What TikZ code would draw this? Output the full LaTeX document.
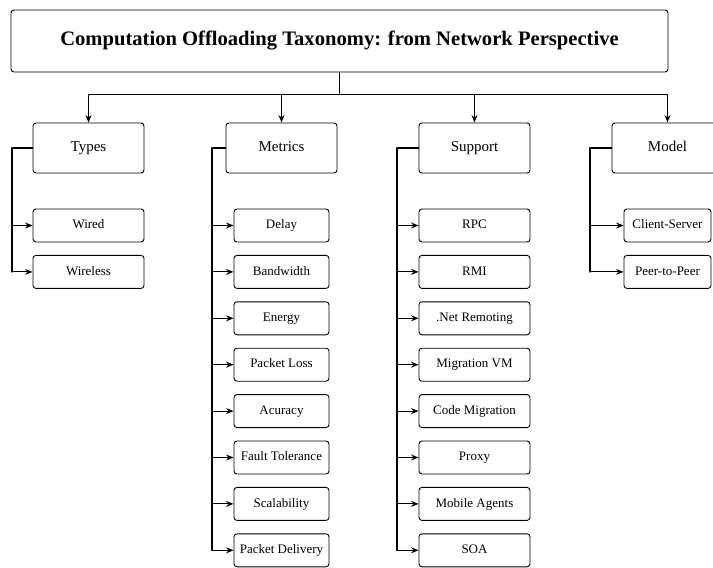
\documentclass[tikz,border=0pt]{standalone}
\usepackage{fontspec}
\setmainfont{Liberation Serif}
\usetikzlibrary{arrows.meta}
\begin{document}
\begin{tikzpicture}[x=1pt,y=-1pt,line join=round,line cap=round,>={Stealth[length=7.5pt,width=6pt,inset=2.5pt]}]
\tikzset{topbox/.style={draw,line width=0.9pt,rounded corners=3pt,minimum width=657pt,minimum height=62pt,font=\fontsize{20.6}{24}\selectfont\bfseries},
catbox/.style={draw,line width=0.9pt,rounded corners=3pt,minimum width=111pt,minimum height=50pt,text height=10.5pt,text depth=3pt,font=\fontsize{15}{18}\selectfont},
leafbox/.style={draw,line width=0.9pt,rounded corners=3pt,minimum height=33pt,inner xsep=2pt,text height=9pt,text depth=2.5pt,font=\fontsize{13}{15}\selectfont},
link/.style={->,line width=0.9pt},
trunk/.style={line width=1.6pt}}
\useasboundingbox (0,0) rectangle (713,568);
\node[topbox] (tax) at (339.5,41) {Computation Offloading Taxonomy: from Network Perspective};
\coordinate (split) at (339.5,94);
\draw[line width=1.2pt] (tax.south)--(split);
\node[catbox] (types) at (88.5,148) {Types};
\node[catbox] (metrics) at (281.5,148) {Metrics};
\node[catbox] (support) at (474.5,148) {Support};
\node[catbox] (model) at (667.5,148) {Model};
\foreach \c in {types,metrics,support,model}
\draw[link] (split)-|(\c.north);
% types
\coordinate (tbr) at (12,148);
\foreach \t [count=\i] in {Wired,Wireless}
\node[leafbox,minimum width=111pt] (typ\i) at (88.5,{225.5+46.4*(\i-1)}) {\t};
\draw[trunk] (types.west)--(tbr)--(tbr|-typ2.west);
\foreach \i in {1,2}
\draw[link] (tbr|-typ\i.west)--(typ\i.west);
% metrics
\coordinate (mbr) at (212,148);
\foreach \t [count=\i] in {Delay,Bandwidth,Energy,Packet Loss,Acuracy,Fault Tolerance,Scalability,Packet Delivery}
\node[leafbox,minimum width=95pt] (met\i) at (281.5,{225.5+46.4*(\i-1)}) {\t};
\draw[trunk] (metrics.west)--(mbr)--(mbr|-met8.west);
\foreach \i in {1,...,8}
\draw[link] (mbr|-met\i.west)--(met\i.west);
% support
\coordinate (sbr) at (397,148);
\foreach \t [count=\i] in {RPC,RMI,.Net Remoting,Migration VM,Code Migration,Proxy,Mobile Agents,SOA}
\node[leafbox,minimum width=111pt] (sup\i) at (474.5,{225.5+46.4*(\i-1)}) {\t};
\draw[trunk] (support.west)--(sbr)--(sbr|-sup8.west);
\foreach \i in {1,...,8}
\draw[link] (sbr|-sup\i.west)--(sup\i.west);
% model
\coordinate (obr) at (590,148);
\foreach \t [count=\i] in {Client-Server,Peer-to-Peer}
\node[leafbox,minimum width=87pt] (mod\i) at (667.5,{225.5+46.4*(\i-1)}) {\t};
\draw[trunk] (model.west)--(obr)--(obr|-mod2.west);
\foreach \i in {1,2}
\draw[link] (obr|-mod\i.west)--(mod\i.west);
\end{tikzpicture}
\end{document}
